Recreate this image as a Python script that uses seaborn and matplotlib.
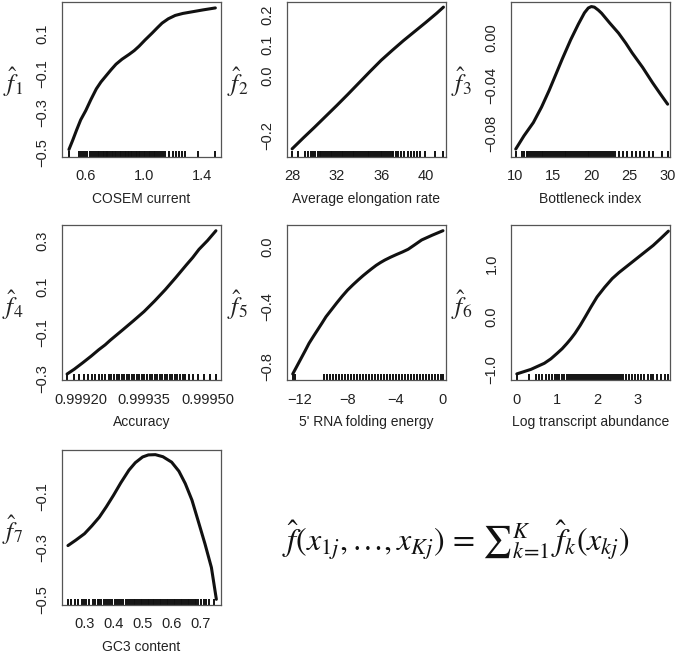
import matplotlib
matplotlib.use("Agg")
import matplotlib.pyplot as plt
import numpy as np
import pandas as pd
import seaborn as sns

# ---- data ----
# panel 1: COSEM current
cosem_x = [0.484, 0.51, 0.537, 0.565, 0.60, 0.635, 0.673, 0.705, 0.741, 0.775, 0.809, 0.85, 0.90,
           0.935, 0.968, 1.01, 1.059, 1.095, 1.127, 1.17, 1.218, 1.27, 1.332, 1.41, 1.495]
cosem_y = [-0.487, -0.44, -0.388, -0.337, -0.29, -0.235, -0.18, -0.145, -0.113, -0.083, -0.055,
           -0.03, -0.005, 0.014, 0.036, 0.068, 0.103, 0.13, 0.153, 0.175, 0.192, 0.202, 0.21, 0.22, 0.23]
cosem_rug = [0.484, 0.555, 0.568, 0.583, 0.597, 0.611, 0.628, 0.641, 0.656, 0.671, 0.683, 0.692,
             0.704, 0.716, 0.725, 0.737, 0.748, 0.757, 0.769, 0.78, 0.791, 0.802, 0.812, 0.824,
             0.835, 0.846, 0.857, 0.868, 0.879, 0.889, 0.901, 0.912, 0.922, 0.934, 0.945, 0.956,
             0.966, 0.978, 0.989, 1.001, 1.012, 1.023, 1.034, 1.046, 1.057, 1.068, 1.079, 1.09,
             1.104, 1.118, 1.131, 1.15, 1.172, 1.2, 1.221, 1.245, 1.268, 1.286, 1.377, 1.495]

# panel 2: Average elongation rate
elong_x = [28.0, 29.0, 30.0, 31.0, 32.0, 33.0, 34.0, 35.0, 36.0, 37.0, 38.0, 39.0, 40.0, 41.0, 41.6]
elong_y = [-0.243, -0.207, -0.172, -0.136, -0.1, -0.063, -0.025, 0.013, 0.05, 0.083, 0.115,
           0.145, 0.175, 0.206, 0.226]
elong_rug = [28.0, 28.49, 29.19, 29.45, 29.7, 29.9, 30.1, 30.3, 30.47, 30.62, 30.8, 30.95, 31.1,
             31.28, 31.45, 31.6, 31.78, 31.95, 32.1, 32.28, 32.45, 32.6, 32.78, 32.95, 33.1,
             33.28, 33.45, 33.6, 33.78, 33.95, 34.1, 34.28, 34.45, 34.6, 34.78, 34.95, 35.1,
             35.28, 35.45, 35.6, 35.78, 35.95, 36.1, 36.28, 36.45, 36.6, 36.78, 36.95, 37.1,
             37.3, 37.5, 37.8, 38.1, 38.4, 38.7, 38.95, 39.2, 39.5, 39.93, 40.85, 41.6]

# panel 3: Bottleneck index
bottle_x = [10.13, 11.2, 12.43, 13.5, 14.5, 15.09, 16.2, 17.3, 18.3, 19.1, 19.6, 20.0, 20.4,
            20.9, 21.33, 22.4, 23.55, 24.5, 25.33, 26.7, 27.99, 29.0, 29.96]
bottle_y = [-0.093, -0.082, -0.0709, -0.058, -0.044, -0.035, -0.018, -0.002, 0.011, 0.0205,
            0.0245, 0.0257, 0.0252, 0.0228, 0.0202, 0.012, 0.0036, -0.0048, -0.0129, -0.025,
            -0.0377, -0.047, -0.0556]
bottle_rug = [10.13, 10.89, 11.2, 11.55, 11.77, 12.0, 12.25, 12.5, 12.75, 13.0, 13.25, 13.5,
              13.75, 14.0, 14.25, 14.5, 14.75, 15.0, 15.25, 15.5, 15.75, 16.0, 16.25, 16.5,
              16.75, 17.0, 17.25, 17.5, 17.75, 18.0, 18.25, 18.5, 18.75, 19.0, 19.25, 19.5,
              19.75, 20.0, 20.25, 20.5, 20.75, 21.0, 21.25, 21.5, 21.75, 22.0, 22.3, 22.6,
              22.85, 23.08, 23.6, 24.1, 24.6, 25.3, 25.8, 26.3, 26.9, 27.5, 27.99, 29.24, 29.96]

# panel 4: Accuracy
acc_x = [0.999168, 0.999185, 0.999205, 0.999225, 0.999243, 0.999258, 0.99927, 0.999285,
         0.99930, 0.999325, 0.99935, 0.999375, 0.99940, 0.999425, 0.99945, 0.999465, 0.99948,
         0.9995, 0.99952]
acc_y = [-0.281, -0.26, -0.232, -0.203, -0.175, -0.154, -0.134, -0.111, -0.088, -0.049, -0.009,
         0.037, 0.086, 0.139, 0.194, 0.226, 0.262, 0.30, 0.343]
acc_rug = [0.999168, 0.999184, 0.999196, 0.999208, 0.999218, 0.999226, 0.999235, 0.999243,
           0.999251, 0.999258, 0.999267, 0.999273, 0.999279, 0.999285, 0.999291, 0.999297,
           0.999303, 0.999309, 0.999315, 0.999321, 0.999327, 0.999333, 0.999339, 0.999345,
           0.999351, 0.999357, 0.999363, 0.999369, 0.999375, 0.999381, 0.999387, 0.999393,
           0.999399, 0.999405, 0.999411, 0.999417, 0.999423, 0.999429, 0.999435, 0.999441,
           0.999447, 0.999456, 0.999466, 0.999478, 0.999492, 0.999505, 0.99952]

# panel 5: 5' RNA folding energy
fold_x = [-12.6, -12.25, -11.9, -11.55, -11.23, -10.85, -10.5, -10.15, -9.81, -9.35, -8.9,
          -8.45, -8.0, -7.55, -7.1, -6.7, -6.3, -5.95, -5.6, -5.25, -4.88, -4.4, -3.9, -3.4,
          -2.92, -2.35, -1.79, -0.9, 0.0]
fold_y = [-0.849, -0.797, -0.745, -0.693, -0.644, -0.596, -0.553, -0.51, -0.467, -0.42, -0.374,
          -0.33, -0.289, -0.254, -0.221, -0.193, -0.167, -0.145, -0.124, -0.106, -0.089, -0.07,
          -0.052, -0.035, -0.017, 0.014, 0.045, 0.077, 0.107]
fold_rug = [-12.6, -12.45, -9.94, -9.7, -9.45, -9.2, -8.95, -8.7, -8.45, -8.2, -7.95, -7.7,
            -7.45, -7.2, -6.95, -6.7, -6.45, -6.2, -5.95, -5.7, -5.45, -5.2, -4.95, -4.7,
            -4.45, -4.2, -3.95, -3.7, -3.45, -3.2, -2.95, -2.7, -2.45, -2.2, -1.95, -1.7,
            -1.45, -1.2, -0.95, -0.7, -0.45, -0.2, 0.0]

# panel 6: Log transcript abundance
abund_x = [0.0, 0.35, 0.687, 0.85, 1.0, 1.13, 1.25, 1.35, 1.45, 1.58, 1.705, 1.85, 2.0, 2.19,
           2.38, 2.55, 2.7, 2.85, 3.0, 3.2, 3.4, 3.6, 3.78]
abund_y = [-1.075, -0.99, -0.874, -0.79, -0.69, -0.6, -0.5, -0.41, -0.31, -0.16, 0.0, 0.19,
           0.377, 0.56, 0.725, 0.84, 0.93, 1.02, 1.11, 1.23, 1.35, 1.49, 1.62]
abund_rug = [0.0, 0.305, 0.475, 0.56, 0.64, 0.72, 0.8, 0.87, 0.94, 1.0, 1.06, 1.12, 1.18, 1.24,
             1.3, 1.36, 1.41, 1.46, 1.51, 1.56, 1.61, 1.66, 1.71, 1.76, 1.81, 1.86, 1.91, 1.96,
             2.01, 2.06, 2.11, 2.16, 2.21, 2.26, 2.31, 2.36, 2.41, 2.46, 2.51, 2.56, 2.61, 2.66,
             2.72, 2.8, 2.88, 2.95, 3.02, 3.1, 3.18, 3.26, 3.34, 3.4, 3.5, 3.6, 3.7, 3.78]

# panel 7: GC3 content
gc3_x = [0.243, 0.27, 0.30, 0.325, 0.351, 0.375, 0.40, 0.425, 0.453, 0.475, 0.50, 0.52, 0.544,
         0.57, 0.60, 0.625, 0.647, 0.67, 0.691, 0.715, 0.737, 0.754]
gc3_y = [-0.291, -0.27, -0.245, -0.215, -0.181, -0.141, -0.096, -0.048, 0.001, 0.03, 0.052,
         0.06, 0.061, 0.053, 0.032, -0.003, -0.051, -0.115, -0.194, -0.285, -0.376, -0.499]
gc3_rug = [0.243, 0.255, 0.266, 0.276, 0.29, 0.298, 0.305, 0.315, 0.328, 0.337, 0.345, 0.351,
           0.358, 0.366, 0.373, 0.381, 0.389, 0.396, 0.404, 0.412, 0.419, 0.427, 0.434, 0.442,
           0.449, 0.457, 0.464, 0.469, 0.475, 0.481, 0.487, 0.493, 0.499, 0.505, 0.511, 0.517,
           0.523, 0.529, 0.535, 0.541, 0.547, 0.553, 0.559, 0.565, 0.571, 0.577, 0.583, 0.589,
           0.595, 0.601, 0.607, 0.613, 0.619, 0.625, 0.631, 0.637, 0.643, 0.649, 0.655, 0.661,
           0.667, 0.673, 0.679, 0.685, 0.691, 0.7, 0.71, 0.72, 0.73, 0.745]

# axis names, ticks and tick labels
x_names = ["COSEM current", "Average elongation rate", "Bottleneck index", "Accuracy",
           "5' RNA folding energy", "Log transcript abundance", "GC3 content"]
x_ticks = [[0.6, 0.8, 1.0, 1.2, 1.4],
           [28, 30, 32, 34, 36, 38, 40],
           [10, 15, 20, 25, 30],
           [0.99920, 0.99925, 0.99930, 0.99935, 0.99940, 0.99945, 0.99950],
           [-12, -10, -8, -6, -4, -2, 0],
           [0, 1, 2, 3],
           [0.3, 0.4, 0.5, 0.6, 0.7]]
x_labels = [["0.6", "", "1.0", "", "1.4"],
            ["28", "", "32", "", "36", "", "40"],
            ["10", "15", "20", "25", "30"],
            ["0.99920", "", "", "0.99935", "", "", "0.99950"],
            ["\u221212", "", "\u22128", "", "\u22124", "", "0"],
            ["0", "1", "2", "3"],
            ["0.3", "0.4", "0.5", "0.6", "0.7"]]
y_ticks = [[-0.5, -0.4, -0.3, -0.2, -0.1, 0.0, 0.1, 0.2],
           [-0.2, -0.1, 0.0, 0.1, 0.2],
           [-0.08, -0.06, -0.04, -0.02, 0.00, 0.02],
           [-0.3, -0.2, -0.1, 0.0, 0.1, 0.2, 0.3],
           [-0.8, -0.6, -0.4, -0.2, 0.0],
           [-1.0, -0.5, 0.0, 0.5, 1.0, 1.5],
           [-0.5, -0.4, -0.3, -0.2, -0.1, 0.0]]
y_labels = [["\u22120.5", "", "\u22120.3", "", "\u22120.1", "", "0.1", ""],
            ["\u22120.2", "", "0.0", "0.1", "0.2"],
            ["\u22120.08", "", "\u22120.04", "", "0.00", ""],
            ["\u22120.3", "", "\u22120.1", "", "0.1", "", "0.3"],
            ["\u22120.8", "", "\u22120.4", "", "0.0"],
            ["\u22121.0", "", "0.0", "", "1.0", ""],
            ["\u22120.5", "", "\u22120.3", "", "\u22120.1", ""]]

curves_x = [cosem_x, elong_x, bottle_x, acc_x, fold_x, abund_x, gc3_x]
curves_y = [cosem_y, elong_y, bottle_y, acc_y, fold_y, abund_y, gc3_y]
rugs = [cosem_rug, elong_rug, bottle_rug, acc_rug, fold_rug, abund_rug, gc3_rug]

# plot limits (R style box)
x_lims = [(0.436, 1.534), (27.54, 41.83), (9.51, 30.27), (0.999156, 0.999532),
          (-13.08, 0.255), (-0.145, 3.82), (0.2225, 0.77)]
y_lims = [(-0.525, 0.26), (-0.27, 0.243), (-0.0996, 0.0295), (-0.307, 0.368),
          (-0.889, 0.145), (-1.19, 1.736), (-0.521, 0.079)]

sns.set_style("white")
plt.rcParams["font.family"] = ["Liberation Sans", "DejaVu Sans"]
plt.rcParams["mathtext.fontset"] = "stix"

W, H = 675, 653
fig = plt.figure(figsize=(W / 100, H / 100), dpi=100)

lefts = [62, 287, 511]
tops = [2, 225, 450]
aw, ah = 159, 155
box_col = "#555555"

for k in range(7):
    r, c = divmod(k, 3)
    ax = fig.add_axes([lefts[c] / W, 1 - (tops[r] + ah) / H, aw / W, ah / H])
    df = pd.DataFrame({"x": curves_x[k], "y": curves_y[k]})
    sns.lineplot(data=df, x="x", y="y", ax=ax, color="#111111", lw=2.2,
                 sort=False, estimator=None, solid_joinstyle="round",
                 solid_capstyle="round")
    sns.rugplot(x=rugs[k], ax=ax, height=0.04, color="#111111")
    for coll in ax.collections:
        coll.set_linewidth(1.4)
    ax.set_xlim(*x_lims[k])
    ax.set_ylim(*y_lims[k])
    ax.set_xticks(x_ticks[k])
    ax.set_xticklabels(x_labels[k])
    ax.set_yticks(y_ticks[k])
    ax.set_yticklabels(y_labels[k], rotation=90, va="center")
    ax.tick_params(axis="both", direction="out", length=5, width=0.8,
                   color=box_col, labelsize=10.5, labelcolor="#222222", pad=4)
    ax.tick_params(axis="y", pad=4)
    for s in ax.spines.values():
        s.set_color(box_col)
        s.set_linewidth(0.9)
    ax.set_xlabel(x_names[k], fontsize=10, color="#222222")
    ax.xaxis.set_label_coords(0.5, -0.225)
    ax.set_ylabel(r"$\hat{f}_%d$" % (k + 1), rotation=0, fontsize=18,
                  color="#222222", va="center", ha="center")
    ax.yaxis.set_label_coords(-0.31, 0.48)

fig.text(456 / W, 1 - 540 / H,
         r"$\hat{f}(x_{1j},\ldots,x_{Kj})\, =\, {\sum}_{k\!=\!1}^{K}\,\hat{f}_k(x_{kj})$",
         fontsize=23, ha="center", va="center", color="#111111")

fig.savefig("out.png", dpi=100)
